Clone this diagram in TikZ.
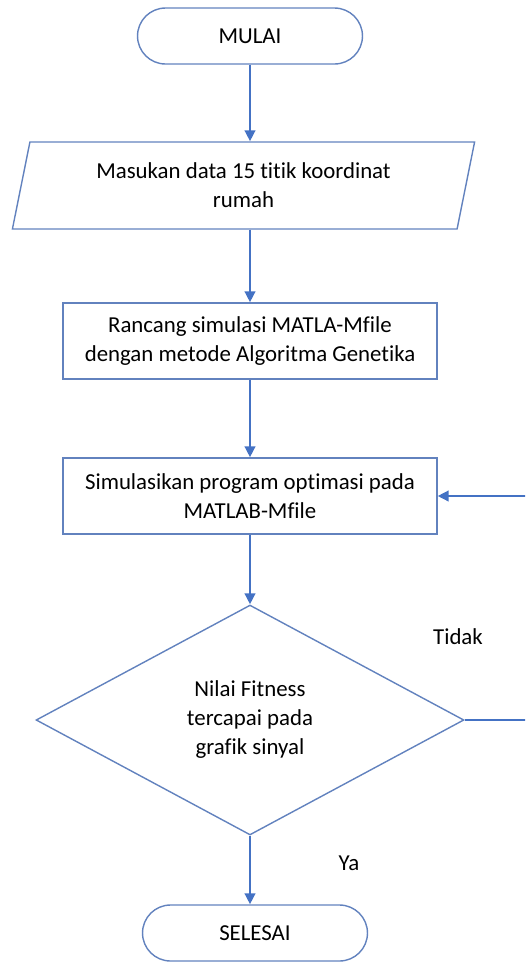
\documentclass[tikz,border=0pt]{standalone}
\usepackage{fontspec}
\setmainfont{Carlito}[Ligatures=NoCommon]
\usetikzlibrary{shapes.geometric,arrows.meta}
\definecolor{flowblue}{RGB}{68,114,196}
\definecolor{edgeblue}{RGB}{98,130,190}
\newcommand\flowfont{\fontsize{13}{16.5}\selectfont}
\tikzset{
  box/.style={draw=edgeblue, line width=0.8pt, align=center, font=\flowfont, inner sep=0pt},
  term/.style={box, rectangle, rounded corners=0.56cm, minimum width=4.5cm, minimum height=1.12cm},
  proc/.style={box, rectangle, minimum width=7.48cm, minimum height=1.52cm},
  io/.style={box, trapezium, trapezium left angle=75, trapezium right angle=105,
    trapezium stretches=true, minimum width=9.26cm, minimum height=1.74cm},
  decide/.style={box, diamond, minimum width=8.56cm, minimum height=4.6cm},
  arr/.style={draw=flowblue, line width=1.4pt, -{Triangle[width=0.21cm,length=0.22cm]}},
  lbl/.style={font=\flowfont}
}
\begin{document}
\begin{tikzpicture}[x=0.02cm, y=-0.02cm]
\useasboundingbox (0,0) rectangle (525,965);
\clip (0,0) rectangle (525,965);
%% nodes
\node[term] (start) at (250,36) {MULAI};
\node[io] (input) at (243.5,185.5) {Masukan data 15 titik koordinat\\rumah};
\node[proc] (design) at (250,341) {Rancang simulasi MATLA-Mfile\\dengan metode Algoritma Genetika};
\node[proc] (simul) at (250,496) {Simulasikan program optimasi pada\\MATLAB-Mfile};
\node[decide] (check) at (250,720) {Nilai Fitness\\tercapai pada\\grafik sinyal};
\node[term] (stop) at (255,933) {SELESAI};
\node[lbl] (no) at (458,637) {Tidak};
\node[lbl] (yes) at (349,863) {Ya};
%%% edges
\draw[arr] (start.south) -- (start.south |- input.north);
\draw[arr] (design.north |- input.south) -- (design.north);
\draw[arr] (design.south) -- (simul.north);
\draw[arr] (simul.south) -- (check.north);
\draw[arr] (check.south) -- (check.south |- stop.north);
\draw[arr] (check.east) -- ++(90,0) |- (simul.east);
\end{tikzpicture}
\end{document}
